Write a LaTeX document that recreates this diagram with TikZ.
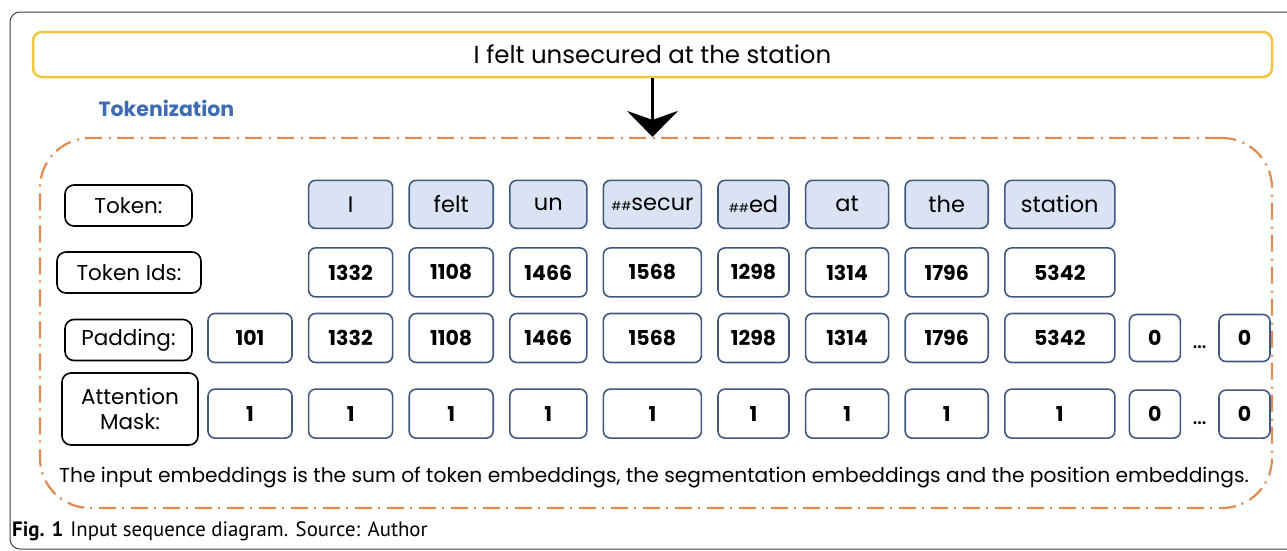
\documentclass[tikz,border=0pt]{standalone}
\usepackage{fontspec}
\setmainfont{Poppins}
\newfontfamily\capfont{PT Sans}
\usetikzlibrary{positioning,arrows.meta,calc}
\definecolor{sentyellow}{RGB}{240,198,64}
\definecolor{frameorange}{RGB}{222,140,80}
\definecolor{tokblue}{RGB}{218,227,243}
\definecolor{cellline}{RGB}{64,88,128}
\definecolor{headblue}{RGB}{62,108,180}

\begin{document}
\begin{tikzpicture}
    [x=1pt, y=-1pt,
     outer/.style={draw=black!75, line width=1pt, rounded corners=10pt},
     sentence/.style={rectangle, rounded corners=9pt, draw=sentyellow, line width=2.5pt,
       minimum width=1239pt, minimum height=45pt, font=\fontsize{24.5}{28}\selectfont},
     tokframe/.style={rectangle, rounded corners=50pt, draw=frameorange, line width=2.2pt,
       dash pattern=on 17pt off 6pt on 2pt off 7pt, minimum width=1232pt, minimum height=370pt},
     bigarrow/.style={-{Stealth[length=26pt, width=51pt, inset=9pt]}, line width=3pt},
     heading/.style={font=\fontsize{20.5}{24}\selectfont\bfseries, text=headblue},
     lbl/.style={rectangle, rounded corners=9pt, draw=black, line width=1.6pt,
       minimum width=127pt, minimum height=41pt, inner sep=0pt, font=\fontsize{21.5}{24}\selectfont},
     cell/.style={rectangle, rounded corners=7pt, draw=cellline, line width=1.6pt,
       minimum height=49pt, inner sep=0pt, font=\fontsize{20.5}{24}\selectfont\bfseries},
     tok/.style={cell, fill=tokblue, minimum height=48pt, font=\fontsize{22.5}{26}\selectfont},
     gapdots/.style={yshift=-9pt, font=\fontsize{24}{26}\selectfont},
     note/.style={font=\fontsize{20.2}{24}\selectfont},
     caption/.style={font=\capfont\fontsize{20.8}{24}\selectfont}]

    \useasboundingbox (0,0) rectangle (1287,550);
    \draw[outer] (10,12) rectangle (1320,549);

    \node[sentence] (sent) at (652.5,54.5) {I felt unsecured at the station};
    \node[heading, anchor=west] (tokhead) at (95,108) {Tokenization};
    \node[tokframe] (frame) at (656,323) {};
    \draw[bigarrow] (sent.south) -- (sent.south |- frame.north);

    \node[lbl] (ltok) at (128.5,205.5) {Token:};
    \node[lbl, minimum width=144pt] (lids) at (129,272.5) {Token Ids:};
    \node[lbl] (lpad) at (128.5,340) {Padding:};
    \node[lbl, minimum width=136pt, minimum height=72pt, align=center] (lmask) at (130,409)
      {Attention\\[1pt]Mask:};

    \node[cell, minimum width=84pt] (p0) at (250,338) {101};
    \node[cell, minimum width=84pt, below=25pt of p0] (m0) {1};

    \foreach \i/\w/\t/\n [remember=\i as \j (initially 0)] in
      {1/84/I/1332, 2/84/felt/1108, 3/77/un/1466,
       4/98/{{\fontsize{12}{12}\selectfont\#\#}secur}/1568,
       5/71/{{\fontsize{12}{12}\selectfont\#\#}ed}/1298,
       6/83/at/1314, 7/83/the/1796, 8/110/station/5342} {
      \node[cell, minimum width=\w pt, right=15pt of p\j] (p\i) {\n};
      \node[cell, minimum width=\w pt, above=15pt of p\i] (i\i) {\n};
      \node[tok, minimum width=\w pt, above=18pt of i\i] (t\i) {\t};
      \node[cell, minimum width=\w pt, below=25pt of p\i] (m\i) {1};
    }

    \node[cell, minimum width=51pt, minimum height=47pt, right=13pt of p8] (pz1) {0};
    \node[cell, minimum width=51pt, minimum height=47pt, right=37pt of pz1] (pz2) {0};
    \node[cell, minimum width=51pt, minimum height=48pt, below=27pt of pz1] (mz1) {0};
    \node[cell, minimum width=51pt, minimum height=48pt, below=27pt of pz2] (mz2) {0};
    \node[gapdots] (pdots) at ($(pz1.east)!.5!(pz2.west)$) {\dots};
    \node[gapdots] (mdots) at ($(mz1.east)!.5!(mz2.west)$) {\dots};

    \node[note] (sumnote) at (654,477) {The input embeddings is the sum of token embeddings, the segmentation embeddings and the position embeddings.};
    \node[caption, anchor=west, inner sep=2pt] (fig) at (10,531) {\textbf{Fig. 1}\hspace{7pt}Input sequence diagram. Source: Author};
\end{tikzpicture}
\end{document}
